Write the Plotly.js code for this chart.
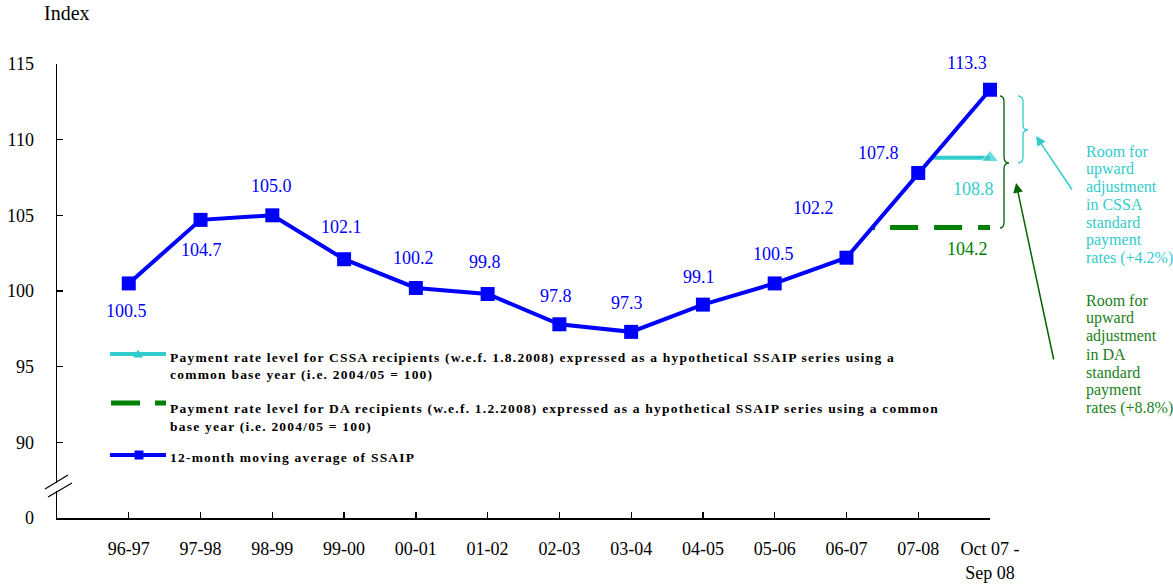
<!DOCTYPE html>
<html>
<head>
<meta charset="utf-8">
<script src="https://cdn.plot.ly/plotly-3.0.1.min.js"></script>
<style>html,body{margin:0;padding:0;background:#fff;}#chart{width:1173px;height:584px;}</style>
</head>
<body>
<div id="chart"></div>
<script>
// ---- data ----
const categories = ['96-97','97-98','98-99','99-00','00-01','01-02','02-03','03-04','04-05','05-06','06-07','07-08','Oct 07 -<br>Sep 08'];
const ssaip = [100.5,104.7,105.0,102.1,100.2,99.8,97.8,97.3,99.1,100.5,102.2,107.8,113.3];
const cssaLevel = 108.8;
const daLevel = 104.2;
const yTickVals = [85,90,95,100,105,110,115];
const yTickText = ['0','90','95','100','105','110','115'];
const legendCSSA = ['Payment rate level for CSSA recipients (w.e.f. 1.8.2008) expressed as a hypothetical SSAIP series using a','common base year (i.e. 2004/05 = 100)'];
const legendDA = ['Payment rate level for DA recipients (w.e.f. 1.2.2008) expressed as a hypothetical SSAIP series using a common','base year (i.e. 2004/05 = 100)'];
const legendSSAIP = ['12-month moving average of SSAIP'];
const noteCSSA = ['Room for','upward','adjustment','in CSSA','standard','payment','rates (+4.2%)'];
const noteDA = ['Room for','upward','adjustment','in DA','standard','payment','rates (+8.8%)'];

// ---- styles / positions ----
const BLUE = '#0000FF', CYAN = '#33CCCC', GREEN = '#008000', DGREEN = '#006400';
const FONT = 'Liberation Serif, Times New Roman, serif';
const PL = 57, PR = 990, PT = 64, PB = 518;
const px = p => (p - PL) / (PR - PL);
const py = p => (PB - p) / (PB - PT);
const labelShift = [[-2,-28],[1,-30],[-1,29],[-3,32],[-2,30],[-3,32],[-3,28],[-4,29],[-4,28],[-1,29],[-33,50],[-40,20],[-23,27]];

const n = ssaip.length;
const xIdx = ssaip.map((_, i) => i);
const last = n - 1;
// start of horizontal levels where they meet the SSAIP line (last crossing)
function crossing(level) {
  for (let i = n - 2; i >= 0; i--) {
    const a = ssaip[i], b = ssaip[i + 1];
    if ((a - level) * (b - level) <= 0 && a !== b) return i + (level - a) / (b - a);
  }
  return 0;
}
const cssaStart = crossing(cssaLevel);
const daStart = crossing(daLevel);

const traces = [
  {x: [daStart, last], y: [daLevel, daLevel], mode: 'lines', line: {color: GREEN, width: 5, dash: '3px,15px,28px,16px,28px,16px,28px,16px'}, cliponaxis: false, hoverinfo: 'skip'},
  {x: [cssaStart, last], y: [cssaLevel, cssaLevel], mode: 'lines+markers', line: {color: CYAN, width: 4}, marker: {symbol: 'triangle-up', size: [0, 15], color: CYAN}, cliponaxis: false, hoverinfo: 'skip'},
  {x: xIdx, y: ssaip, mode: 'lines+markers', line: {color: BLUE, width: 4}, marker: {symbol: 'square', size: 14, color: BLUE}, cliponaxis: false}
];

const annotations = [];
ssaip.forEach((v, i) => {
  annotations.push({x: i, y: v, xref: 'x', yref: 'y', text: v.toFixed(1), showarrow: false,
    xshift: labelShift[i][0], yshift: labelShift[i][1], font: {family: FONT, size: 18, color: BLUE}});
});
annotations.push({x: last, y: cssaLevel, xref: 'x', yref: 'y', text: cssaLevel.toFixed(1), showarrow: false, xshift: -17, yshift: -31, font: {family: FONT, size: 18, color: CYAN}});
annotations.push({x: last, y: daLevel, xref: 'x', yref: 'y', text: daLevel.toFixed(1), showarrow: false, xshift: -23, yshift: -22, font: {family: FONT, size: 18, color: GREEN}});
annotations.push({x: px(67), y: py(13), xref: 'paper', yref: 'paper', xanchor: 'center', yanchor: 'middle', text: 'Index', showarrow: false, font: {family: FONT, size: 20, color: '#000'}});

// legend texts
function legText(lines, y0, dy) {
  lines.forEach((t, k) => annotations.push({x: px(168), y: py(y0 + k * dy), xref: 'paper', yref: 'paper', xanchor: 'left', yanchor: 'middle',
    text: '<span style="letter-spacing:1.22px">' + t + '</span>', showarrow: false, font: {family: FONT, size: 13.5, color: '#000', weight: 'bold'}}));
}
legText(legendCSSA, 357, 17.5);
legText(legendDA, 408, 18);
legText(legendSSAIP, 457, 18);

// notes on the right
function note(lines, y0, dy, color) {
  lines.forEach((t, k) => annotations.push({x: px(1084), y: py(y0 + k * dy), xref: 'paper', yref: 'paper', xanchor: 'left', yanchor: 'middle',
    text: t, showarrow: false, font: {family: FONT, size: 16, color: color}}));
}
note(noteCSSA, 151, 17.8, CYAN);
note(noteDA, 300, 18, '#1A7F1A');

// arrows
annotations.push({x: px(1036), y: py(136), xref: 'paper', yref: 'paper', text: '', showarrow: true, ax: 37, ay: 55, arrowhead: 2, arrowsize: 1.3, arrowwidth: 1.5, arrowcolor: CYAN, standoff: 0});
annotations.push({x: px(1016), y: py(183), xref: 'paper', yref: 'paper', text: '', showarrow: true, ax: 38, ay: 178, arrowhead: 2, arrowsize: 1.3, arrowwidth: 1.5, arrowcolor: DGREEN, standoff: 0});

// shapes
function pathFrom(cmds) {
  return cmds.map(c => c[0] + c.slice(1).map((v, j) => (j % 2 === 0 ? px(v) : py(v)).toFixed(5)).join(',')).join(' ');
}
const shapes = [];
function pshape(cmds, color, width, dash, fill) {
  shapes.push({type: 'path', xref: 'paper', yref: 'paper', path: pathFrom(cmds), line: {color: color, width: width, dash: dash || 'solid'}, fillcolor: fill || 'rgba(0,0,0,0)'});
}
// braces
pshape([['M',1000,96],['Q',1004,96,1004,102],['L',1004,157],['Q',1004,163,1009,163],['Q',1004,163,1004,169],['L',1004,222],['Q',1004,228,1000,228]], DGREEN, 1.3);
pshape([['M',1018,96],['Q',1023,96,1023,102],['L',1023,125],['Q',1023,130,1028,130],['Q',1023,130,1023,135],['L',1023,157],['Q',1023,163,1018,163]], CYAN, 1.3);
// axis break
shapes.push({type: 'rect', xref: 'paper', yref: 'paper', x0: px(53), x1: px(60), y0: py(491), y1: py(483), fillcolor: '#fff', line: {width: 0}});
pshape([['M',45,489],['L',68,475]], '#000', 1.2);
pshape([['M',48,497],['L',72,483]], '#000', 1.2);
// legend samples
pshape([['M',110,354],['L',166,354]], CYAN, 4);
pshape([['M',133,357.5],['L',143,357.5],['L',138,349.5],['Z']], CYAN, 0, null, CYAN);
pshape([['M',111,403],['L',166,403]], GREEN, 5, '29px,15px');
pshape([['M',110,455],['L',166,455]], BLUE, 4);
pshape([['M',134.5,450.5],['L',143.5,450.5],['L',143.5,459.5],['L',134.5,459.5],['Z']], BLUE, 0, null, BLUE);

const layout = {
  width: 1173, height: 584,
  margin: {l: PL, r: 1173 - PR, t: PT, b: 584 - PB},
  paper_bgcolor: '#fff', plot_bgcolor: '#fff',
  showlegend: false,
  font: {family: FONT, size: 18, color: '#000'},
  xaxis: {range: [-1, last], tickvals: xIdx, ticktext: categories, ticks: 'inside', ticklen: 6, tickwidth: 1.3, tickcolor: '#000',
    showline: true, linecolor: '#000', linewidth: 1.5, showgrid: false, zeroline: false, ticklabelstandoff: 14,
    tickfont: {family: FONT, size: 18, color: '#000'}, fixedrange: true},
  yaxis: {range: [85, 115], tickvals: yTickVals, ticktext: yTickText, ticks: 'inside', ticklen: 6, tickwidth: 1.3, tickcolor: '#000',
    showline: true, linecolor: '#000', linewidth: 1.5, showgrid: false, zeroline: false, ticklabelstandoff: 18,
    tickfont: {family: FONT, size: 18, color: '#000'}, fixedrange: true},
  annotations: annotations,
  shapes: shapes
};
Plotly.newPlot('chart', traces, layout, {displayModeBar: false, staticPlot: true});
</script>
</body>
</html>
